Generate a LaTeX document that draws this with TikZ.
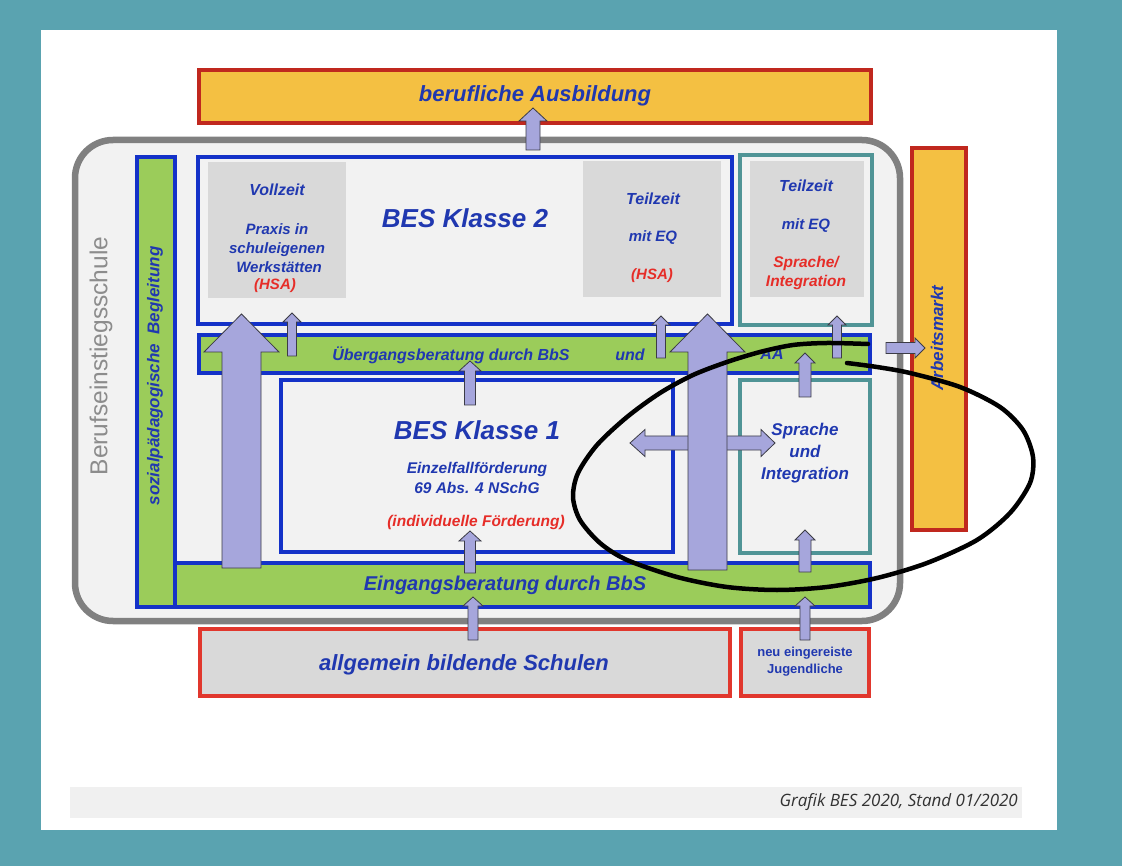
\documentclass[tikz,border=0pt]{standalone}
\usepackage{fontspec}
\setmainfont{Liberation Sans}
\newfontfamily\footfont{Open Sans}
\definecolor{bgteal}{RGB}{90,163,176}
\definecolor{tblue}{RGB}{32,56,176}
\definecolor{bblue}{RGB}{20,50,200}
\definecolor{bgreen}{RGB}{155,204,90}
\definecolor{tealb}{RGB}{80,148,150}
\definecolor{panel}{RGB}{217,217,217}
\definecolor{lfill}{RGB}{242,242,242}
\definecolor{ograyb}{RGB}{128,128,128}
\definecolor{orangef}{RGB}{244,192,66}
\definecolor{redd}{RGB}{192,40,30}
\definecolor{redb}{RGB}{225,55,45}
\definecolor{redtext}{RGB}{230,45,40}
\definecolor{afill}{RGB}{166,166,220}
\definecolor{adraw}{RGB}{60,60,70}
\definecolor{gtext}{RGB}{140,140,140}
\definecolor{footgray}{RGB}{240,240,240}
\newcommand\fsz[2]{\fontsize{#1}{#2}\selectfont}
\newcommand\rbox[6]{\node[#2, minimum width={#5-#3}, minimum height={#6-#4}] (#1) at (#3,#4) {};}
\newcommand\blockup[6]{\draw[barrow] ({#1-#4},#2) -- ({#1-#4},{#3+#6}) -- ({#1-#5},{#3+#6}) -- (#1,#3) -- ({#1+#5},{#3+#6}) -- ({#1+#4},{#3+#6}) -- ({#1+#4},#2) -- cycle;}
\newcommand\blockh[6]{\draw[barrow] (#1,{#2-#4}) -- ({#3-(#6)},{#2-#4}) -- ({#3-(#6)},{#2-#5}) -- (#3,#2) -- ({#3-(#6)},{#2+#5}) -- ({#3-(#6)},{#2+#4}) -- (#1,{#2+#4}) -- cycle;}
\begin{document}
\begin{tikzpicture}[x=1pt,y=-1pt,
  box/.style={rectangle, inner sep=0pt, outer sep=0pt, anchor=north west},
  bluebox/.style={box, draw=bblue, line width=4.5pt, fill=lfill},
  tealbox/.style={box, draw=tealb, line width=4.5pt, fill=lfill},
  greenbar/.style={box, draw=bblue, line width=3.5pt, fill=bgreen},
  graypanel/.style={box, fill=panel},
  orangebox/.style={box, draw=redd, line width=4pt, fill=orangef},
  redbox/.style={box, draw=redb, line width=4pt, fill=panel},
  outerbox/.style={box, draw=ograyb, line width=6.5pt, fill=lfill, rounded corners=38pt},
  txt/.style={text=tblue, font=\bfseries\itshape, inner sep=0pt, align=center},
  rtxt/.style={text=redtext, font=\bfseries\itshape, inner sep=0pt, align=center},
  barrow/.style={fill=afill, draw=adraw, line width=0.8pt, line join=miter}]
\useasboundingbox (0,0) rectangle (1122,866);
\fill[bgteal] (0,0) rectangle (1122,866);
\fill[white] (41,30) rectangle (1057,830);
% footer
\rbox{footbar}{box, fill=footgray}{70}{787}{1022}{818}
\node[anchor=east, inner sep=0pt, text={rgb,255:red,50;green,50;blue,50}, font=\footfont\itshape\fsz{17}{20}] (foottxt) at (1018,802) {Grafik BES 2020, Stand 01/2020};
% top
\rbox{ausb}{orangebox}{199}{70}{871}{123}
\node[txt, font=\bfseries\itshape\fsz{22}{26}] (ausbt) at (535,96) {berufliche Ausbildung};
% outer
\rbox{outer}{outerbox}{75}{140}{900}{621}
\node[rotate=90, text=gtext, font=\fsz{24.5}{28}, inner sep=0pt] (best) at (101,356) {Berufseinstiegsschule};
% bars
\rbox{sozbar}{greenbar}{137}{157}{175}{607}
\node[txt, rotate=90, font=\bfseries\itshape\fsz{17}{20}] (sozt) at (155,376) {sozialpädagogische\ \ Begleitung};
\rbox{eing}{greenbar}{175}{563}{870}{607}
\node[txt, font=\bfseries\itshape\fsz{20}{24}] (eingt) at (505,585) {Eingangsberatung durch BbS};
% BES 2
\rbox{bes2}{bluebox}{198}{157}{732}{324}
\rbox{voll}{graypanel}{208}{162}{346}{298}
\rbox{teil}{graypanel}{583}{161}{721}{297}
\node[txt, font=\bfseries\itshape\fsz{26}{30}] (bes2t) at (465,218) {BES Klasse 2};
\node[txt, font=\bfseries\itshape\fsz{16}{19}] (vollt1) at (277,190) {Vollzeit};
\node[txt, font=\bfseries\itshape\fsz{15}{19}] (vollt2) at (277,248) {Praxis in\\schuleigenen\\\ Werkstätten};
\node[rtxt, font=\bfseries\itshape\fsz{15}{19}] (vollt3) at (275,286) {(HSA)};
\node[txt, font=\bfseries\itshape\fsz{16}{19}] (teilt1) at (653,199) {Teilzeit};
\node[txt, font=\bfseries\itshape\fsz{15}{19}] (teilt2) at (653,238) {mit EQ};
\node[rtxt, font=\bfseries\itshape\fsz{15}{19}] (teilt3) at (652,276) {(HSA)};
% teal top
\rbox{tealtop}{tealbox}{740}{155}{872}{325}
\rbox{teil2}{graypanel}{750}{161}{864}{297}
\node[txt, font=\bfseries\itshape\fsz{16}{19}] (t2a) at (806,186) {Teilzeit};
\node[txt, font=\bfseries\itshape\fsz{15}{19}] (t2b) at (806,226) {mit EQ};
\node[rtxt, font=\bfseries\itshape\fsz{15.5}{19}] (t2c) at (806,273) {Sprache/\\Integration};
% Uebergang
\rbox{ueb}{greenbar}{199}{335}{870}{373}
\node[txt, font=\bfseries\itshape\fsz{16}{19}] (uebt) at (451,355) {Übergangsberatung durch BbS};
\node[txt, font=\bfseries\itshape\fsz{16}{19}] (undt) at (630,355) {und};
\node[txt, font=\bfseries\itshape\fsz{16}{19}] (aat) at (772,354) {AA};
% BES 1
\rbox{bes1}{bluebox}{281}{380}{673}{552}
\node[txt, font=\bfseries\itshape\fsz{26}{30}] (bes1t) at (477,430) {BES Klasse 1};
\node[txt, font=\bfseries\itshape\fsz{15.5}{20}] (bes1a) at (477,478) {Einzelfallförderung\\69 Abs. 4 NSchG};
\node[rtxt, font=\bfseries\itshape\fsz{15.5}{19}] (bes1b) at (476,522) {(individuelle Förderung)};
% Sprache
\rbox{spr}{tealbox}{740}{380}{870}{553}
\node[txt, font=\bfseries\itshape\fsz{17}{22}] (sprt) at (805,453) {Sprache\\und\\Integration};
% Arbeitsmarkt
\rbox{arbm}{orangebox}{912}{148}{966}{530}
\node[txt, rotate=90, font=\bfseries\itshape\fsz{17}{20}] (arbt) at (937,338) {Arbeitsmarkt};
% bottom
\rbox{allg}{redbox}{200}{629}{730}{696}
\node[txt, font=\bfseries\itshape\fsz{22}{26}] (allgt) at (464,665) {allgemein bildende Schulen};
\rbox{neu}{redbox}{741}{629}{869}{696}
\node[txt, font=\bfseries\fsz{13}{17}] (neut) at (805,662) {neu eingereiste\\Jugendliche};
% arrows
\blockup{533}{150}{108}{7}{14}{13}
\blockup{292}{356}{313}{4.5}{9}{9}
\blockup{661}{358}{316}{4.5}{9}{9}
\blockup{837}{358}{316}{4.5}{9}{9}
\blockup{470}{405}{361}{5.5}{11}{10}
\blockup{470}{573}{531}{5.5}{11}{10}
\blockup{805}{397}{353}{6}{10}{10}
\blockup{805}{572}{530}{6}{10}{10}
\blockup{473}{640}{597}{5}{10}{9}
\blockup{805}{640}{597}{5}{10}{9}
\blockup{241.5}{568}{314}{19.5}{37.5}{38}
\blockh{700}{443}{630}{7}{13.5}{-15}
\blockh{715}{443}{775}{7}{13.5}{14}
\blockup{707.5}{570}{314}{19.5}{37.5}{38}
\blockh{886}{348}{925}{5.5}{10}{10}
% ellipse
\draw[line width=4.5pt, line cap=round, black] plot[smooth, tension=0.5] coordinates {(868,344) (827,343) (793,345) (760,352) (727,362) (693,375) (660,393) (627,417) (597,445) (578,473) (573,497) (580,520) (600,543) (627,560) (677,577) (727,587) (777,590) (827,587) (877,578) (927,563) (977,540) (1010,513) (1030,483) (1033,457) (1023,430) (1000,407) (960,387) (910,373) (877,367) (847,363)};
\end{tikzpicture}
\end{document}
